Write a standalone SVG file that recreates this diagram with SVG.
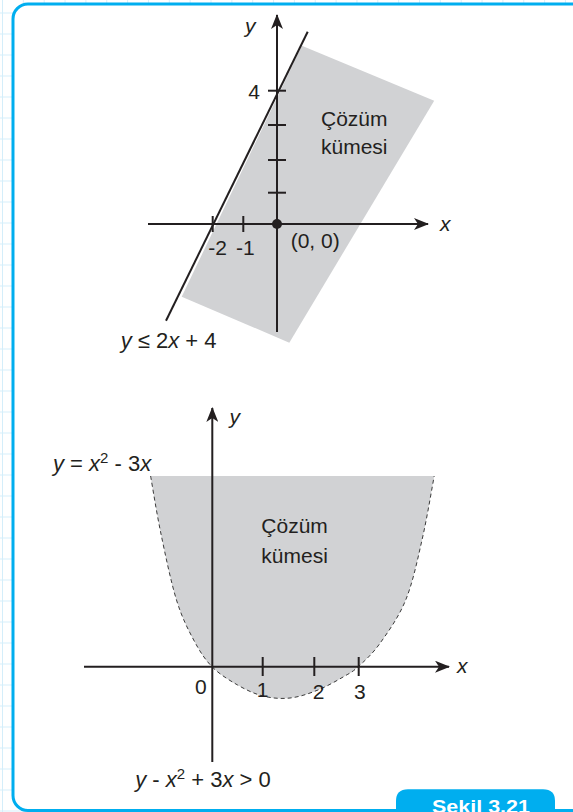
<svg xmlns="http://www.w3.org/2000/svg" width="573" height="812" viewBox="0 0 573 812">
<defs>
<pattern id="grid" x="2" y="12.5" width="20.85" height="21" patternUnits="userSpaceOnUse">
<path d="M0.5,0 V21 M0,0.5 H20.85" fill="none" stroke="#d4eefa" stroke-width="1"/>
</pattern>
<marker id="arr" viewBox="0 0 15 12" refX="14" refY="6" markerWidth="15" markerHeight="12" markerUnits="userSpaceOnUse" orient="auto">
<path d="M0,0 L15,6 L0,12 L4,6 Z" fill="#231f20"/>
</marker>
</defs>
<style>
.ax{stroke:#231f20;stroke-width:2;fill:none}
.tk{stroke:#231f20;stroke-width:2}
.shade{fill:#d1d2d4;stroke:none}
.dash{fill:none;stroke:#3a3a3a;stroke-width:1;stroke-dasharray:4 3}
.t{font-family:"Liberation Sans",Arial,sans-serif;font-size:21px;fill:#231f20}
.eq{font-size:22px}
.i{font-style:italic}
.sup{font-size:15px}
.tab{font-family:"Liberation Sans",Arial,sans-serif;font-size:19px;font-weight:bold;fill:#ffffff}
</style>
<rect width="573" height="812" fill="#ffffff"/>
<rect width="573" height="812" fill="url(#grid)"/>
<rect x="13" y="4" width="600" height="806.5" rx="15" ry="15" fill="#ffffff" stroke="#00aeef" stroke-width="3"/>

<g id="graph1">
<polygon class="shade" points="301.9,45.7 434.2,100.7 289.3,342.7 181.7,296.7"/>
<g id="connectors1">
<line class="ax" x1="148" y1="224" x2="428" y2="224" marker-end="url(#arr)"/>
<line class="ax" x1="277" y1="332" x2="277" y2="15" marker-end="url(#arr)"/>
<line class="ax" x1="166" y1="320.7" x2="307.7" y2="31.7"/>
<line class="tk" x1="212.7" y1="216" x2="212.7" y2="232"/>
<line class="tk" x1="243.3" y1="216" x2="243.3" y2="232"/>
<line class="tk" x1="268" y1="90.7" x2="286" y2="90.7"/>
<line class="tk" x1="268" y1="125" x2="286" y2="125"/>
<line class="tk" x1="268" y1="160" x2="286" y2="160"/>
<line class="tk" x1="268" y1="192.7" x2="286" y2="192.7"/>
</g>
<circle cx="277" cy="224" r="5" fill="#231f20"/>
<text class="t i" x="245" y="33">y</text>
<text class="t" x="260" y="99" text-anchor="end">4</text>
<text class="t" x="321" y="126">Çözüm</text>
<text class="t" x="321" y="154">kümesi</text>
<text class="t i" x="440" y="231">x</text>
<text class="t" x="208.3" y="255">-2</text>
<text class="t" x="236" y="255">-1</text>
<text class="t" x="290.7" y="248">(0, 0)</text>
<text class="t eq" x="120.7" y="348"><tspan class="i">y</tspan> ≤ 2<tspan class="i">x</tspan> + 4</text>
</g>

<g id="graph2">
<path class="shade" d="M150.6,476 C152.3,485.5 156.5,512.3 160.8,533 C165.1,553.7 171,582.2 176.5,600 C182,617.8 187.8,628.9 193.7,640 C199.6,651.1 204.7,659.2 212,666.7 C219.3,674.2 229.1,680.1 237.6,685 C246.1,689.9 254.3,693.8 263,696 C271.7,698.2 280.8,699 290,698 C299.2,697 309.1,693.6 318,690 C326.9,686.4 336.9,680.6 343.6,676.7 C350.3,672.8 352.1,672.3 358.2,666.7 C364.3,661.1 372.1,654.4 380,643.3 C387.9,632.2 398.7,617.2 405.7,600 C412.7,582.8 417.3,560.7 422,540 C426.8,519.3 432.2,486.7 434.2,476 Z"/>
<path class="dash" d="M150.6,476 C152.3,485.5 156.5,512.3 160.8,533 C165.1,553.7 171,582.2 176.5,600 C182,617.8 187.8,628.9 193.7,640 C199.6,651.1 204.7,659.2 212,666.7 C219.3,674.2 229.1,680.1 237.6,685 C246.1,689.9 254.3,693.8 263,696 C271.7,698.2 280.8,699 290,698 C299.2,697 309.1,693.6 318,690 C326.9,686.4 336.9,680.6 343.6,676.7 C350.3,672.8 352.1,672.3 358.2,666.7 C364.3,661.1 372.1,654.4 380,643.3 C387.9,632.2 398.7,617.2 405.7,600 C412.7,582.8 417.3,560.7 422,540 C426.8,519.3 432.2,486.7 434.2,476"/>
<g id="connectors2">
<line class="ax" x1="84" y1="666.7" x2="449" y2="666.7" marker-end="url(#arr)"/>
<line class="ax" x1="212.3" y1="762" x2="212.3" y2="408" marker-end="url(#arr)"/>
<line class="tk" x1="262.7" y1="657" x2="262.7" y2="676"/>
<line class="tk" x1="314.3" y1="657" x2="314.3" y2="676"/>
<line class="tk" x1="358.7" y1="657" x2="358.7" y2="676"/>
</g>
<text class="t i" x="229.5" y="424">y</text>
<text class="t eq" x="53" y="470.7"><tspan class="i">y</tspan> = <tspan class="i">x</tspan><tspan class="sup" dy="-8">2</tspan><tspan dy="8"> - 3</tspan><tspan class="i">x</tspan></text>
<text class="t" x="261.3" y="533.3">Çözüm</text>
<text class="t" x="261.3" y="562.7">kümesi</text>
<text class="t i" x="457" y="673">x</text>
<text class="t" x="195" y="694">0</text>
<text class="t" x="262.5" y="697" text-anchor="middle">1</text>
<text class="t" x="312.7" y="699">2</text>
<text class="t" x="354" y="699">3</text>
<text class="t eq" x="135.2" y="786.7"><tspan class="i">y</tspan> - <tspan class="i">x</tspan><tspan class="sup" dy="-8">2</tspan><tspan dy="8"> + 3</tspan><tspan class="i">x</tspan> &gt; 0</text>
</g>

<g id="caption">
<path d="M396,812 V801 Q396,789.3 408,789.3 H543 Q555,789.3 555,801 V812 Z" fill="#00aeef"/>
<text class="tab" x="432" y="813" textLength="98" lengthAdjust="spacingAndGlyphs">Şekil 3.21</text>
</g>
</svg>
